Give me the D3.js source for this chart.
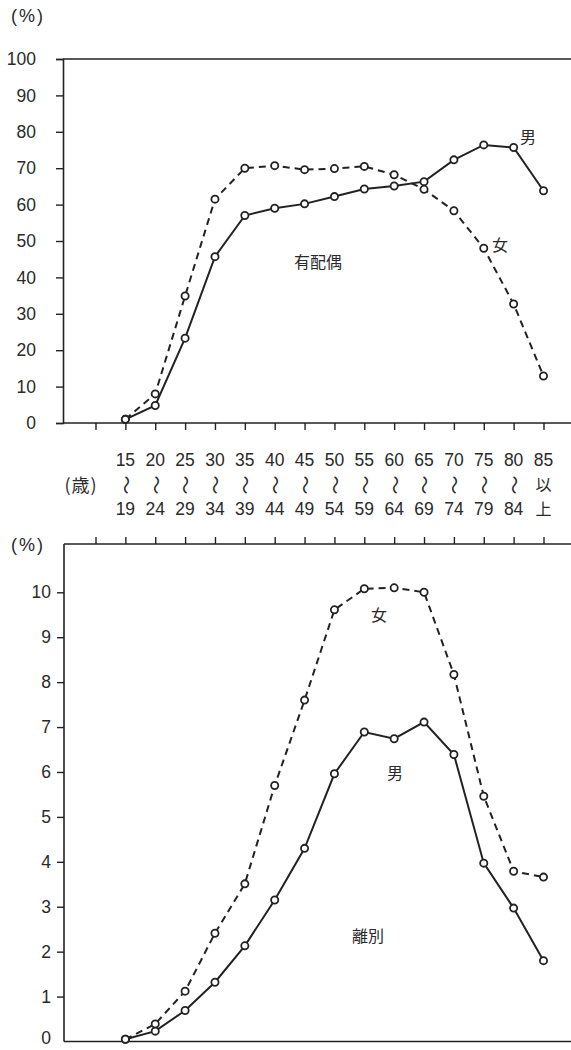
<!DOCTYPE html>
<html><head><meta charset="utf-8">
<script src="https://cdn.jsdelivr.net/npm/d3@7"></script>
<style>
body{margin:0;background:#fff;}
svg text{font-family:"Liberation Sans","Noto Sans CJK JP",sans-serif;fill:#2a2a2a;}
.cjk{font-family:"Noto Sans CJK JP",sans-serif !important;}
</style></head><body>
<svg id="c" width="571" height="1050"></svg>
<script>
const agesFrom = ["15","20","25","30","35","40","45","50","55","60","65","70","75","80","85"];
const agesTo   = ["19","24","29","34","39","44","49","54","59","64","69","74","79","84","上"];
const agesMid  = ["〜","〜","〜","〜","〜","〜","〜","〜","〜","〜","〜","〜","〜","〜","以"];
const marriedMen   = [1.0, 4.8, 23.3, 45.7, 57.0, 59.0, 60.2, 62.2, 64.3, 65.1, 66.3, 72.3, 76.4, 75.7, 63.8];
const marriedWomen = [1.0, 8.0, 34.9, 61.5, 70.0, 70.7, 69.6, 69.9, 70.5, 68.2, 64.2, 58.3, 48.0, 32.7, 12.9];
const divorcedMen   = [0.05, 0.23, 0.69, 1.32, 2.13, 3.15, 4.30, 5.96, 6.89, 6.74, 7.11, 6.39, 3.97, 2.97, 1.80];
const divorcedWomen = [0.05, 0.39, 1.12, 2.41, 3.51, 5.70, 7.60, 9.61, 10.08, 10.10, 10.00, 8.17, 5.46, 3.79, 3.66];
const topTicks = [0,10,20,30,40,50,60,70,80,90,100];
const bottomTicks = [0,1,2,3,4,5,6,7,8,9,10];

const svg = d3.select("#c");
const ink = "#222";
const W = 571;
const x = d3.scaleLinear().domain([-1, 14]).range([95.5, 543.5]);
const tickIdx = d3.range(-1, 15);

// ---------- Top chart ----------
const yT = d3.scaleLinear().domain([0,100]).range([423, 59]);
const gT = svg.append("g");
gT.append("line").attr("x1",63).attr("x2",W).attr("y1",yT(100)).attr("y2",yT(100)).attr("stroke",ink).attr("stroke-width",1.6);
gT.append("line").attr("x1",63).attr("x2",W).attr("y1",yT(0)).attr("y2",yT(0)).attr("stroke",ink).attr("stroke-width",1.6);
const axT = gT.append("g").attr("transform","translate(63,0)")
  .call(d3.axisLeft(yT).tickValues(topTicks).tickSize(7).tickPadding(20).tickFormat(d3.format("d")));
axT.select(".domain").attr("stroke",ink).attr("stroke-width",1.6);
axT.selectAll(".tick line").attr("stroke",ink).attr("stroke-width",1.4);
axT.selectAll(".tick text").attr("font-size",17.5).style("font-family","Liberation Sans").attr("fill","#2a2a2a");
const axTx = gT.append("g").attr("transform",`translate(0,${yT(0)})`)
  .call(d3.axisBottom(x).tickValues(tickIdx).tickSize(7).tickFormat(""));
axTx.select(".domain").remove();
axTx.selectAll(".tick line").attr("stroke",ink).attr("stroke-width",1.4);

// category labels
const lab = svg.append("g");
agesFrom.forEach((s,i)=>{
  lab.append("text").attr("x",x(i)).attr("y",466).attr("text-anchor","middle").attr("font-size",17.5).text(s);
  if (agesMid[i] === "〜") {
    lab.append("text").attr("class","cjk").attr("font-size",19).attr("text-anchor","middle")
      .attr("transform",`translate(${x(i)},485) rotate(90)`).attr("dy","0.35em").text(agesMid[i]);
  } else {
    lab.append("text").attr("class","cjk").attr("x",x(i)).attr("y",491).attr("text-anchor","middle").attr("font-size",16).text(agesMid[i]);
  }
  const isCjk = agesTo[i] === "上";
  lab.append("text").attr("class",isCjk?"cjk":null).attr("x",x(i)).attr("y",515).attr("text-anchor","middle").attr("font-size",isCjk?16:17.5).text(agesTo[i]);
});
lab.append("text").attr("x",81).attr("y",492).attr("text-anchor","middle").attr("font-size",18).attr("letter-spacing",1).attr("class","cjk").text("(歳)");
svg.append("text").attr("x",11).attr("y",22).attr("font-size",18).attr("letter-spacing",2).text("(%)");
svg.append("text").attr("x",11).attr("y",551).attr("font-size",18).attr("letter-spacing",2).text("(%)");

function series(g, vals, y, dashed){
  const line = d3.line().x((d,i)=>x(i)).y(d=>y(d));
  g.append("path").datum(vals).attr("d",line).attr("fill","none").attr("stroke",ink)
    .attr("stroke-width",2).attr("stroke-dasharray",dashed?"7,5":null);
}
function dots(g, vals, y){
  g.selectAll(null).data(vals).enter().append("circle")
    .attr("cx",(d,i)=>x(i)).attr("cy",d=>y(d)).attr("r",3.6)
    .attr("fill","#fff").attr("stroke",ink).attr("stroke-width",1.8);
}
series(gT, marriedWomen, yT, true);
series(gT, marriedMen, yT, false);
dots(gT, marriedWomen, yT);
dots(gT, marriedMen, yT);
gT.append("text").attr("class","cjk").attr("x",528).attr("y",143).attr("text-anchor","middle").attr("font-size",16).text("男");
gT.append("text").attr("class","cjk").attr("x",500).attr("y",251).attr("text-anchor","middle").attr("font-size",16).text("女");
gT.append("text").attr("class","cjk").attr("x",318).attr("y",268).attr("text-anchor","middle").attr("font-size",16).text("有配偶");

// ---------- Bottom chart ----------
const yB = d3.scaleLinear().domain([0,10]).range([1041.5, 592.3]);
const gB = svg.append("g");
gB.append("line").attr("x1",64).attr("x2",W).attr("y1",544).attr("y2",544).attr("stroke",ink).attr("stroke-width",1.6);
gB.append("line").attr("x1",64).attr("x2",W).attr("y1",yB(0)).attr("y2",yB(0)).attr("stroke",ink).attr("stroke-width",1.6);
gB.append("line").attr("x1",64).attr("x2",64).attr("y1",544).attr("y2",yB(0)).attr("stroke",ink).attr("stroke-width",1.6);
const axB = gB.append("g").attr("transform","translate(64,0)")
  .call(d3.axisLeft(yB).tickValues(bottomTicks).tickSize(7).tickPadding(6).tickFormat(d3.format("d")));
axB.select(".domain").remove();
axB.selectAll(".tick line").attr("stroke",ink).attr("stroke-width",1.4).attr("opacity",d=>d===0?0:1);
axB.selectAll(".tick text").attr("font-size",17.5).style("font-family","Liberation Sans").attr("fill","#2a2a2a")
  .attr("dy",d=>d===0?"0.12em":"0.32em");
const axBx = gB.append("g").attr("transform","translate(0,544)")
  .call(d3.axisTop(x).tickValues(tickIdx).tickSize(7).tickFormat(""));
axBx.select(".domain").remove();
axBx.selectAll(".tick line").attr("stroke",ink).attr("stroke-width",1.4);

series(gB, divorcedWomen, yB, true);
series(gB, divorcedMen, yB, false);
dots(gB, divorcedWomen, yB);
dots(gB, divorcedMen, yB);
gB.append("text").attr("class","cjk").attr("x",379).attr("y",621).attr("text-anchor","middle").attr("font-size",16).text("女");
gB.append("text").attr("class","cjk").attr("x",395).attr("y",779).attr("text-anchor","middle").attr("font-size",16).text("男");
gB.append("text").attr("class","cjk").attr("x",368).attr("y",942).attr("text-anchor","middle").attr("font-size",16).text("離別");
</script></body></html>
